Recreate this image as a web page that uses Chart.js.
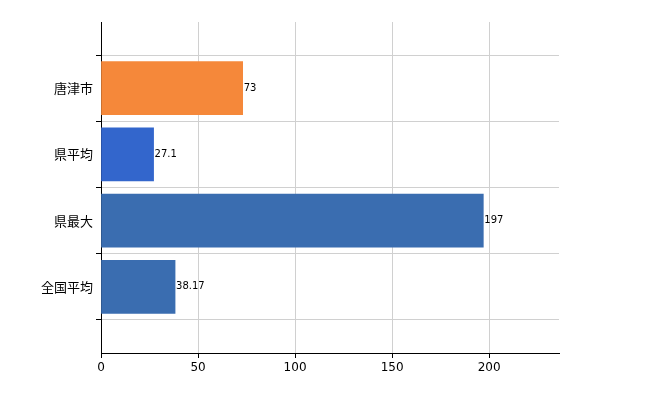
<!DOCTYPE html>
<html><head><meta charset="utf-8">
<script src="https://cdn.jsdelivr.net/npm/chart.js@4"></script>
<style>html,body{margin:0;background:#fff}#wrap{width:650px;height:400px}</style>
</head><body><div id="wrap"><canvas id="c"></canvas></div>
<script>
const categories = ['', '唐津市', '県平均', '県最大', '全国平均', ''];
const values = [null, 73, 27.1, 197, 38.17, null];
const valueLabels = ['', '73', '27.1', '197', '38.17', ''];
const barColors = ['#fff', '#F5883A', '#3366CC', '#3A6DB0', '#3A6DB0', '#fff'];

const valuePlugin = {
  id: 'vals',
  afterDatasetsDraw(chart) {
    const ctx = chart.ctx;
    ctx.save();
    ctx.font = '10px "DejaVu Sans", sans-serif';
    ctx.fillStyle = '#000';
    ctx.textBaseline = 'middle';
    chart.getDatasetMeta(0).data.forEach((bar, i) => {
      if (values[i] == null) return;
      ctx.fillText(valueLabels[i], bar.x + 1, bar.y);
    });
    ctx.restore();
  }
};

new Chart(document.getElementById('c'), {
  type: 'bar',
  data: { labels: categories, datasets: [{ data: values, backgroundColor: barColors, barThickness: 53 }] },
  options: {
    indexAxis: 'y',
    responsive: true, maintainAspectRatio: false, animation: false,
    layout: { padding: { top: 22, right: 91, left: 0, bottom: 0 } },
    plugins: { legend: { display: false }, tooltip: { enabled: false } },
    scales: {
      x: {
        min: 0, max: 236,
        afterBuildTicks: s => { s.ticks = s.ticks.filter(t => t.value % 50 === 0); },
        afterFit: s => { s.height = 47; },
        ticks: { stepSize: 50, color: '#000', font: { size: 12, family: 'DejaVu Sans' } },
        grid: { color: '#d0d0d0', tickColor: '#000', tickLength: 5 },
        border: { color: '#000' }
      },
      y: {
        offset: false,
        afterFit: s => { s.width = 101; },
        ticks: { color: '#000', font: { size: 13, family: 'Noto Sans CJK JP' } },
        grid: { color: '#d0d0d0', tickColor: '#000', tickLength: 5 },
        border: { color: '#000' }
      }
    }
  },
  plugins: [valuePlugin]
});
</script></body></html>
